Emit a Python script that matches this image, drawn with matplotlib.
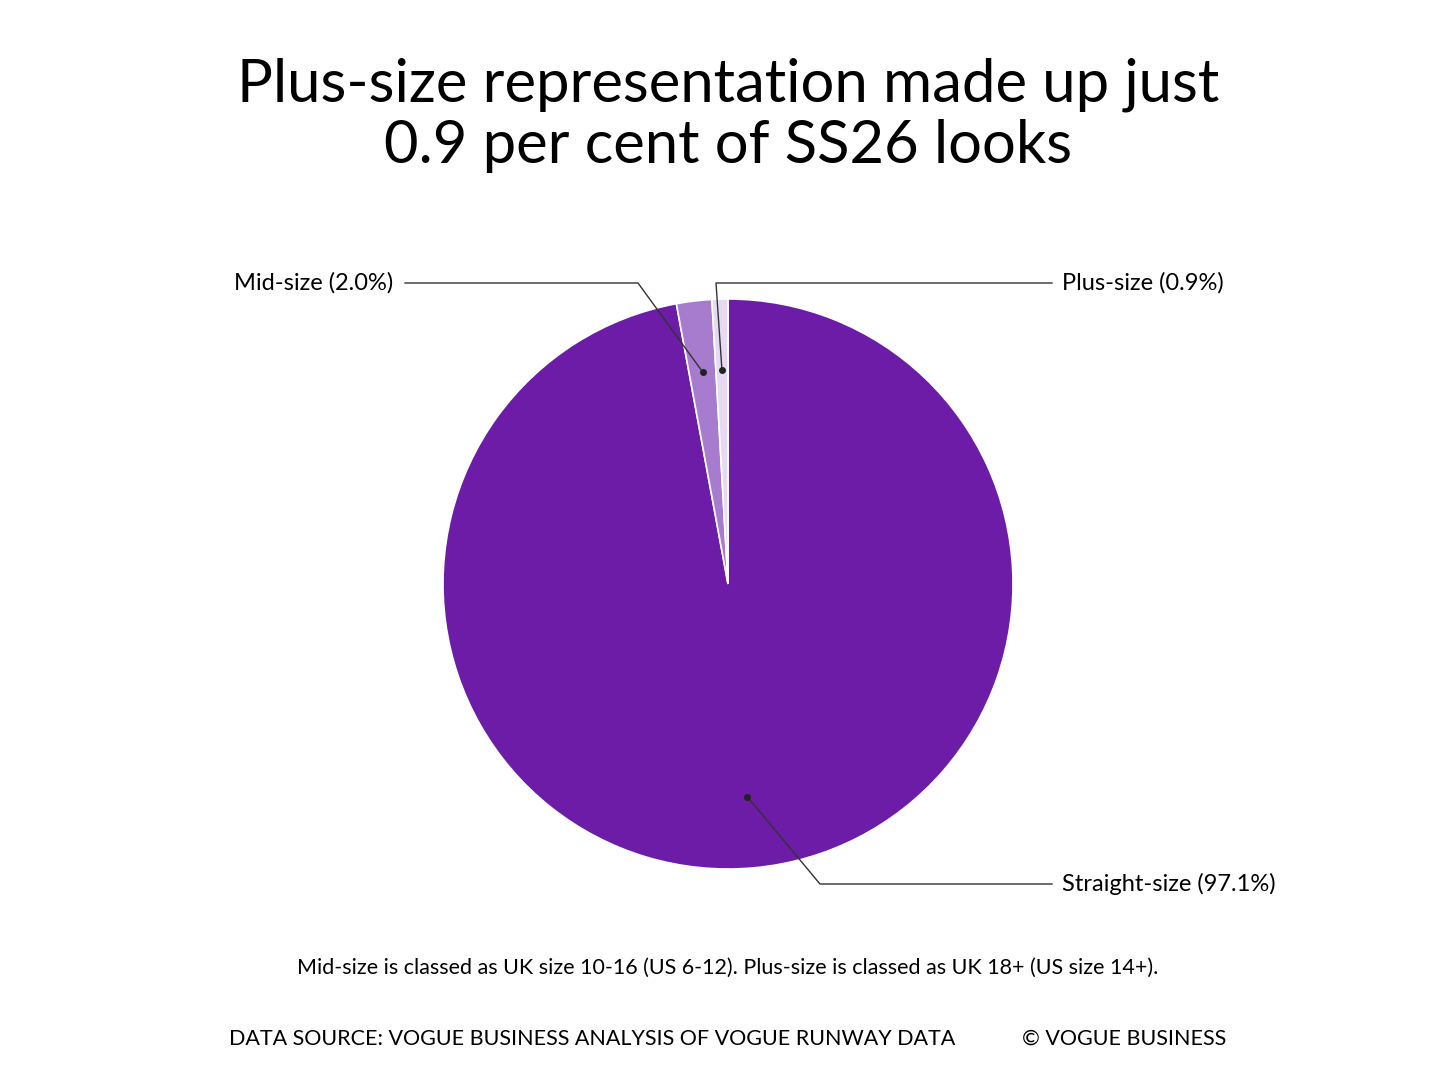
import numpy as np
import matplotlib
matplotlib.use("Agg")
import matplotlib.pyplot as plt

plt.rcParams['font.family'] = ['Lato', 'DejaVu Sans']

labels = ["Straight-size (97.1%)", "Mid-size (2.0%)", "Plus-size (0.9%)"]
values = [97.1, 2.0, 0.9]
colors = ["#6c1ca6", "#a77ccf", "#e6daf2"]

W, H = 1456, 1068
fig = plt.figure(figsize=(W / 100, H / 100), dpi=100)
ax = fig.add_axes([0, 0, 1, 1])

def Y(y):  # pixel row (from top) -> data y
    return H - y

cx, cy, R = 728, Y(584), 285
ax.pie(values, colors=colors, startangle=90, counterclock=False,
       center=(cx, cy), radius=R, frame=True,
       wedgeprops=dict(edgecolor="white", linewidth=1.2))
ax.set_xlim(0, W)
ax.set_ylim(0, H)
ax.set_aspect("equal")
ax.axis("off")

# anchor dots at 0.75 radius on each wedge's mid angle
cum = np.cumsum([0] + values[:-1])
mids = 90 - (cum + np.array(values) / 2) * 3.6
anchors = [(cx + 0.75 * R * np.cos(np.radians(a)), cy + 0.75 * R * np.sin(np.radians(a))) for a in mids]

elbows = [(820, Y(884)), (638, Y(283)), (716, Y(283))]
ends = [(1052, Y(884)), (405, Y(283)), (1052, Y(283))]
for (px, py), (ex, ey), (tx, ty), lab in zip(anchors, elbows, ends, labels):
    ax.plot([px, ex, tx], [py, ey, ty], color="#333333", lw=1)
    ax.plot(px, py, "o", color="#222222", ms=4)
    if tx < cx:
        ax.text(tx - 12, ty, lab, ha="right", va="center", fontsize=17)
    else:
        ax.text(tx + 10, ty, lab, ha="left", va="center", fontsize=17)

ax.text(W / 2, Y(115), "Plus-size representation made up just\n0.9 per cent of SS26 looks",
        ha="center", va="center", fontsize=43, linespacing=1.15)
ax.text(728, Y(968), "Mid-size is classed as UK size 10-16 (US 6-12). Plus-size is classed as UK 18+ (US size 14+).",
        ha="center", va="center", fontsize=15.5)
ax.text(229, Y(1039), "DATA SOURCE: VOGUE BUSINESS ANALYSIS OF VOGUE RUNWAY DATA",
        ha="left", va="center", fontsize=15.5)
ax.text(1226, Y(1039), "© VOGUE BUSINESS", ha="right", va="center", fontsize=15.5)

fig.savefig("out.png", dpi=100, facecolor="white")
